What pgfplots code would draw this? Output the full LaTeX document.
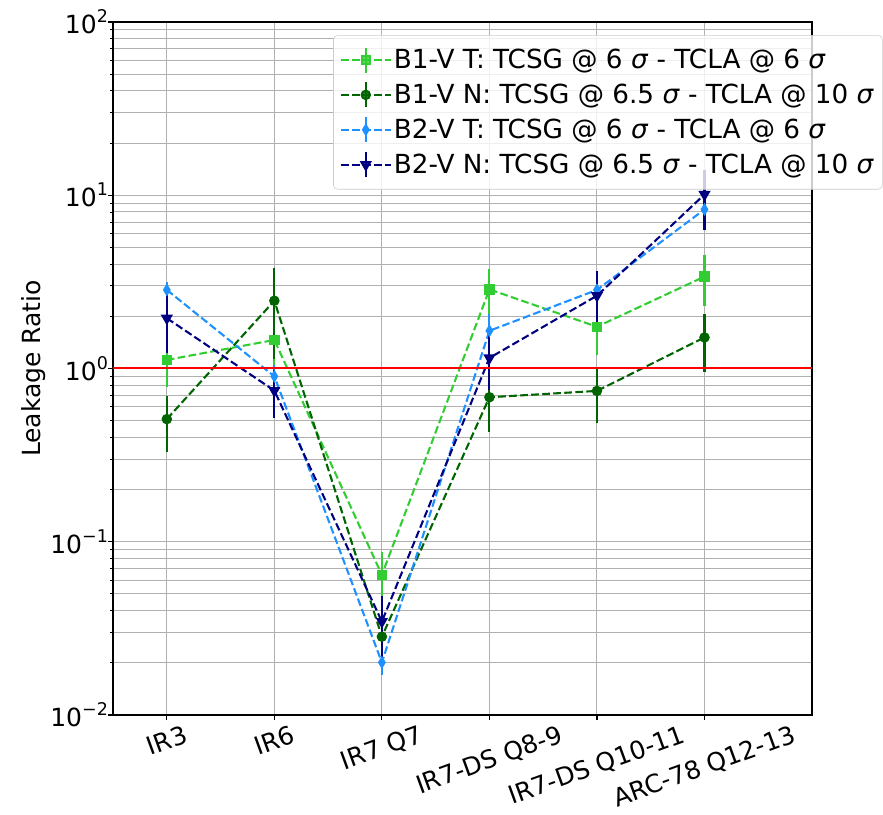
\documentclass[border=0pt]{standalone}
\usepackage{fontspec}
\setmainfont{DejaVu Sans}
\usepackage{graphicx}
\usepackage{pgfplots}
\pgfplotsset{compat=1.18}
\usepackage{pgfplotstable}
\definecolor{cLime}{RGB}{50,205,50}
\definecolor{cDark}{RGB}{0,100,0}
\definecolor{cDodger}{RGB}{30,144,255}
\definecolor{cNavy}{RGB}{0,0,128}
\definecolor{cGrid}{RGB}{176,176,176}
\newcommand\tp[1]{10\raisebox{8bp}{\fontsize{12.6bp}{14bp}\selectfont #1}}
\pgfplotstableread{
x y e
0 1.12 0.34
1 1.46 0.45
2 0.0643 0.023
3 2.86 0.90
4 1.74 0.55
5 3.39 1.10
}\sA
\pgfplotstableread{
x y e
0 0.51 0.18
1 2.46 1.33
2 0.0283 0.008
3 0.682 0.25
4 0.742 0.26
5 1.51 0.55
}\sB
\pgfplotstableread{
x y e
0 2.84 0.30
1 0.90 0.15
2 0.0201 0.003
3 1.65 0.40
4 2.84 0.50
5 8.28 1.50
}\sC
\pgfplotstableread{
x y e
0 1.95 0.72
1 0.745 0.23
2 0.0346 0.014
3 1.15 0.40
4 2.63 1.00
5 10.1 3.80
}\sD
\begin{document}
\begin{tikzpicture}[font=\fontsize{18bp}{21.6bp}\selectfont]
\useasboundingbox (-81.4bp,-72bp) rectangle (554.4bp,514.8bp);
\begin{axis}[
  scale only axis,
  width=503.3bp, height=499bp,
  ymode=log,
  xmin=-0.5, xmax=6,
  ymin=0.01, ymax=100,
  xtick={0,1,2,3,4,5},
  xticklabels={\rotatebox{20}{IR3},\rotatebox{20}{IR6},\rotatebox{20}{IR7 Q7},\rotatebox{20}{IR7-DS Q8-9},\rotatebox{20}{IR7-DS Q10-11},\rotatebox{20}{ARC-78 Q12-13}},
  ytick={0.01,0.1,1,10,100},
  yticklabels={\tp{−2},\tp{−1},\tp{0},\tp{1},\tp{2}},
  tick pos=left,
  tick align=outside,
  major tick length=3.5bp,
  minor tick length=2bp,
  every tick/.style={black, line width=0.8bp},
  every minor tick/.style={black, line width=0.6bp},
  axis line style={line width=0.8bp},
  xmajorgrids, ymajorgrids, yminorgrids,
  major grid style={cGrid, line width=0.72bp},
  minor grid style={cGrid, line width=0.72bp},
  xticklabel style={inner sep=0pt, anchor=north, yshift=-3bp},
  yticklabel style={inner sep=0pt, anchor=east},
  ylabel={Leakage Ratio},
  legend cell align=left,
  legend style={at={(rel axis cs:0.315,0.981)}, anchor=north west,
    draw=black!20, fill=white, fill opacity=0.8, text opacity=1,
    rounded corners=3bp, inner xsep=4.5bp, inner ysep=8bp, row sep=5.6bp,
    nodes={inner sep=1.5bp},
    font=\fontsize{18.9bp}{22.7bp}\selectfont},
  legend image code/.code={
    \draw (0bp,0bp) -- (36bp,0bp);
    \draw[solid] (18bp,-9bp) -- (18bp,9bp);
    \draw[solid] plot coordinates {(18bp,0bp)};
  },
  every axis plot/.append style={line width=1.5bp, dash pattern=on 5.55bp off 2.4bp},
  error bars/error bar style={solid, line width=1.5bp},
  error bars/error mark=none,
]
\addplot[cLime, mark=square*, mark size=3bp, mark options={solid},
  error bars/.cd, y dir=both, y explicit] table[x=x, y=y, y error=e]{\sA};
\addlegendentry{B1-V T: TCSG @ 6 \textit{σ} - TCLA @ 6 \textit{σ}}
\addplot[cDark, mark=*, mark size=3bp, mark options={solid},
  error bars/.cd, y dir=both, y explicit] table[x=x, y=y, y error=e]{\sB};
\addlegendentry{B1-V N: TCSG @ 6.5 \textit{σ} - TCLA @ 10 \textit{σ}}
\addplot[cDodger, mark=diamond*, mark size=3.3bp, mark options={solid, xscale=0.8},
  error bars/.cd, y dir=both, y explicit] table[x=x, y=y, y error=e]{\sC};
\addlegendentry{B2-V T: TCSG @ 6 \textit{σ} - TCLA @ 6 \textit{σ}}
\addplot[cNavy, mark=triangle*, mark size=3.6bp, mark options={solid, rotate=180},
  error bars/.cd, y dir=both, y explicit] table[x=x, y=y, y error=e]{\sD};
\addlegendentry{B2-V N: TCSG @ 6.5 \textit{σ} - TCLA @ 10 \textit{σ}}
\addplot[red, solid, line width=1.5bp, mark=none, forget plot] coordinates {(-0.5,1) (6,1)};
\end{axis}
\end{tikzpicture}
\end{document}
